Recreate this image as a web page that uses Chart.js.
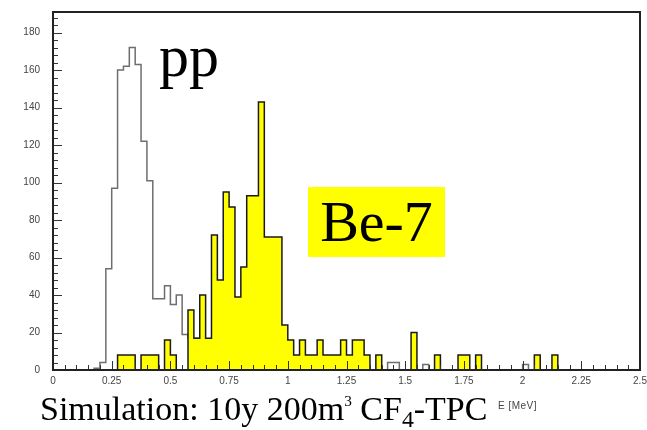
<!DOCTYPE html>
<html>
<head>
<meta charset="utf-8">
<script src="https://cdn.jsdelivr.net/npm/chart.js@4"></script>
<style>
  html, body { margin: 0; padding: 0; background: #fff; }
  #wrap { position: relative; width: 647px; height: 430px; overflow: hidden; }
  #chart { position: absolute; left: 0; top: 0; }
  .serif { position: absolute; font-family: 'Liberation Serif', 'Times New Roman', serif; color: #000; line-height: 1; white-space: nowrap; }
  #pp { left: 159px; top: 26px; font-size: 60px; }
  #be7 { left: 308px; top: 187px; width: 137px; height: 70px; background: #ffff00; font-size: 58px;
         display: flex; align-items: center; justify-content: center; }
  #caption { left: 40px; top: 392px; font-size: 34px; }
  #caption sup { font-size: 0.45em; vertical-align: 0.9em; }
  #caption sub { font-size: 0.7em; vertical-align: -0.3em; }
  #unit { position: absolute; left: 498px; top: 400px; font: 10px 'Liberation Sans', Arial, sans-serif; color: #444; letter-spacing: 0.5px; }
</style>
</head>
<body>
<div id="wrap">
  <canvas id="chart" width="647" height="430"></canvas>
  <div class="serif" id="pp">pp</div>
  <div class="serif" id="be7">Be-7</div>
  <div class="serif" id="caption">Simulation: 10y 200m<sup>3</sup> CF<sub>4</sub>-TPC</div>
  <div id="unit">E [MeV]</div>
</div>
<script>
// 100 bins of 0.025 MeV from 0 to 2.5 MeV
const binWidth = 0.025;

const ppCounts = [
  0, 0, 0, 0, 0, 0, 0, 1, 4, 54,
  97, 160, 162, 172, 163, 122, 101, 38, 38, 45,
  35, 40, 19, 17, 17, 0, 0, 0, 0, 0,
  0, 0, 0, 0, 0, 0, 0, 0, 0, 0,
  0, 0, 0, 0, 0, 0, 0, 0, 0, 0,
  0, 0, 0, 0, 0, 0, 0, 4, 4, 0,
  0, 0, 0, 3, 0, 0, 0, 0, 0, 0,
  0, 0, 0, 0, 0, 0, 0, 0, 0, 0,
  3, 0, 0, 0, 0, 0, 0, 0, 0, 0,
  0, 0, 0, 0, 0, 0, 0, 0, 0, 0,
];

const be7Counts = [
  0, 0, 0, 0, 0, 0, 0, 0, 0, 0,
  0, 8, 8, 8, 0, 8, 8, 8, 0, 16,
  8, 0, 0, 32, 17, 40, 17, 72, 48, 95,
  87, 39, 55, 93, 93, 143, 71, 71, 71, 24,
  16, 8, 16, 8, 8, 16, 8, 8, 8, 16,
  8, 16, 16, 8, 0, 8, 0, 0, 0, 0,
  0, 20, 0, 0, 0, 8, 0, 0, 0, 8,
  8, 0, 8, 0, 0, 0, 0, 0, 0, 0,
  0, 0, 8, 0, 0, 8, 0, 0, 0, 0,
  0, 0, 0, 0, 0, 0, 0, 0, 0, 0,
];

const xTickLabels = ['0', '0.25', '0.5', '0.75', '1', '1.25', '1.5', '1.75', '2', '2.25', '2.5'];
const yTickLabels = ['0', '20', '40', '60', '80', '100', '120', '140', '160', '180'];

function toSteps(counts) {
  const pts = counts.map((c, i) => ({ x: i * binWidth, y: c }));
  pts.push({ x: counts.length * binWidth, y: counts[counts.length - 1] });
  return pts;
}

// ROOT-style frame with ticks pointing into the plot
const frameTicks = {
  id: 'frameTicks',
  afterDatasetsDraw(chart) {
    const { ctx, chartArea: a, scales: { x, y } } = chart;
    ctx.save();
    ctx.strokeStyle = '#333';
    ctx.lineWidth = 1;
    ctx.beginPath();
    for (let k = 0; k <= 50; k++) {
      const px = Math.round(x.getPixelForValue(k * 0.05)) + 0.5;
      const len = k % 5 === 0 ? 9 : 5;
      ctx.moveTo(px, a.bottom);
      ctx.lineTo(px, a.bottom - len);
    }
    for (let k = 0; k <= 47; k++) {
      const py = Math.round(y.getPixelForValue(k * 4)) + 0.5;
      const len = k % 5 === 0 ? 9 : 5;
      ctx.moveTo(a.left, py);
      ctx.lineTo(a.left + len, py);
    }
    ctx.stroke();
    ctx.lineWidth = 2;
    ctx.strokeStyle = '#222';
    ctx.strokeRect(a.left, a.top, a.right - a.left, a.bottom - a.top);
    ctx.restore();
  },
};

const tickFont = { family: "'Liberation Sans', Arial, sans-serif", size: 10 };

// keep the plot area fixed: no extra room for overhanging edge labels
function noEdgePadding(s) {
  s.paddingLeft = 0;
  s.paddingRight = 0;
  s.paddingTop = 0;
  s.paddingBottom = 0;
}

new Chart(document.getElementById('chart'), {
  type: 'line',
  data: {
    datasets: [
      {
        label: 'Be-7',
        data: toSteps(be7Counts),
        stepped: true,
        borderColor: '#1a1a1a',
        borderWidth: 1.5,
        backgroundColor: '#ffff00',
        fill: 'origin',
        pointRadius: 0,
        order: 0,
      },
      {
        label: 'pp',
        data: toSteps(ppCounts),
        stepped: true,
        borderColor: '#6e6e6e',
        borderWidth: 1.5,
        fill: false,
        pointRadius: 0,
        order: 1,
      },
    ],
  },
  options: {
    responsive: false,
    animation: false,
    parsing: false,
    layout: { padding: { top: 12, right: 7, left: 0, bottom: 0 } },
    plugins: { legend: { display: false }, tooltip: { enabled: false } },
    scales: {
      x: {
        type: 'linear',
        min: 0,
        max: 2.5,
        grid: { display: false, drawTicks: false },
        border: { display: false },
        ticks: {
          stepSize: 0.25,
          includeBounds: false,
          autoSkip: false,
          maxRotation: 0,
          padding: 5,
          color: '#444',
          font: tickFont,
          callback: (v) => xTickLabels[Math.round(v / 0.25)] ?? '',
        },
        afterFit: (s) => { s.height = 60; noEdgePadding(s); },
      },
      y: {
        type: 'linear',
        min: 0,
        max: 191,
        grid: { display: false, drawTicks: false },
        border: { display: false },
        ticks: {
          stepSize: 20,
          includeBounds: false,
          padding: 13,
          color: '#444',
          font: tickFont,
          callback: (v) => yTickLabels[Math.round(v / 20)] ?? '',
        },
        afterFit: (s) => { s.width = 53; noEdgePadding(s); },
      },
    },
  },
  plugins: [frameTicks],
});
</script>
</body>
</html>
